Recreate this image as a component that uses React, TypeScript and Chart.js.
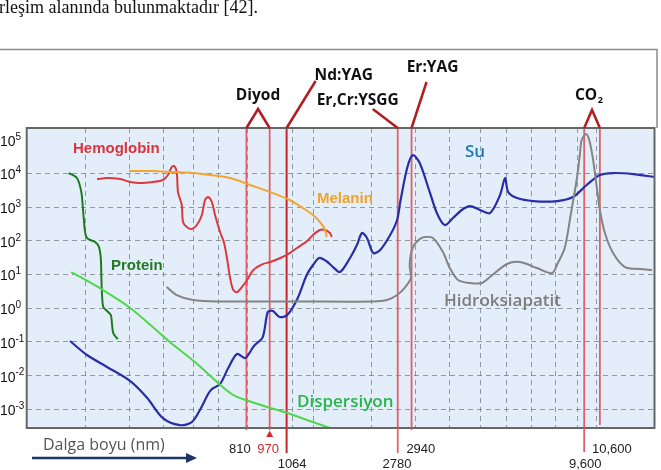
import React, { useEffect, useRef } from "react";
import { Chart, registerables } from "chart.js";

Chart.register(...registerables);

// x: relative position along the (schematic, non-uniform) wavelength axis, 0–100
// y: absorption coefficient (log scale)
const headerText = "rleşim alanında bulunmaktadır [42].";

const hemoglobinX = [11.2, 12.8, 14.9, 16.5, 18.0, 20.1, 21.7, 22.5, 23.1, 23.5, 23.9, 24.1, 24.7, 24.9, 25.5, 26.3, 27.1, 27.9, 28.4, 28.9, 29.5, 30.0, 30.8, 31.4, 31.9, 32.4, 32.9, 33.5, 34.3, 35.1, 36.1, 37.6, 38.8, 40.4, 41.9, 43.5, 44.7, 45.6, 46.7, 47.5, 48.3, 48.6];
const hemoglobinY = [6.8e3, 7.3e3, 6.8e3, 5.6e3, 5.2e3, 5.6e3, 6.4e3, 9.0e3, 1.55e4, 1.66e4, 1.1e4, 2.8e3, 1.16e3, 363, 258, 225, 295, 585, 1.63e3, 2.0e3, 1.42e3, 585, 183, 92, 31, 7.9, 3.5, 3.0, 4.3, 6.9, 13.7, 20.5, 23.5, 31, 43.5, 70, 99, 149, 210, 210, 171, 130];

const melaninX = [16.3, 20.1, 23.3, 26.5, 29.2, 32.4, 35.6, 38.8, 41.9, 44.0, 45.6, 46.7, 47.4, 47.8];
const melaninY = [1.18e4, 1.18e4, 1.1e4, 1.03e4, 9.0e3, 7.3e3, 4.55e3, 2.8e3, 1.63e3, 940, 585, 363, 240, 130];

const proteinX = [6.7, 8.0, 8.7, 9.0, 9.3, 9.6, 10.1, 10.9, 11.5, 11.8, 11.9, 12.0, 12.2, 12.8, 13.4, 13.6, 13.8, 14.5];
const proteinY = [1.03e4, 7.3e3, 2.8e3, 720, 183, 122, 106, 92, 66, 31, 7.9, 2.5, 1.09, 0.83, 0.63, 0.32, 0.18, 0.122];

const dispersionX = [7.1, 11.8, 16.5, 22.8, 26.8, 30.5, 32.9, 35.1, 38.8, 41.5, 45.1, 48.3];
const dispersionY = [11.9, 3.8, 1.02, 0.1, 0.0254, 6.05e-3, 2.67e-3, 1.83e-3, 1.1e-3, 7.8e-4, 4.5e-4, 2.8e-4];

const waterX = [6.9, 9.6, 12.8, 16.5, 19.2, 21.7, 24.4, 26.3, 27.6, 28.9, 29.5, 30.8, 32.1, 33.5, 34.8, 36.2, 37.6, 38.4, 39.2, 40.3, 41.5, 43.1, 44.6, 45.6, 46.6, 47.7, 48.8, 49.9, 51.5, 52.6, 53.4, 54.2, 55.2, 56.3, 57.9, 59.0, 59.5, 60.6, 61.5, 62.6, 64.2, 65.4, 66.6, 67.9, 69.3, 70.6, 72.2, 73.8, 75.4, 76.2, 76.7, 78.1, 80.7, 84.5, 87.0, 89.2, 91.3, 93.4, 96.6, 99.9];
const waterY = [0.107, 0.041, 0.0181, 6.9e-3, 2.17e-3, 5.5e-4, 3.4e-4, 4.2e-4, 9.6e-4, 2.85e-3, 4.0e-3, 5.65e-3, 0.0169, 0.0439, 0.0334, 0.0759, 0.14, 0.774, 0.83, 0.55, 0.63, 1.88, 9.7, 19.2, 31, 25.2, 16.7, 11.9, 31, 75, 171, 122, 43.6, 53.5, 149, 416, 1.42e3, 1.45e4, 3.5e4, 2.04e4, 2.8e3, 626, 295, 476, 823, 1.08e3, 823, 670, 2.3e3, 7.3e3, 2.8e3, 1.87e3, 1.52e3, 1.52e3, 2.0e3, 4.54e3, 9.0e3, 1.03e4, 9.6e3, 7.85e3];

const hydroxyapatiteX = [22.3, 23.9, 26.5, 30.3, 43.5, 55.2, 57.4, 59.0, 60.3, 61.2, 61.0, 61.2, 61.7, 62.6, 63.4, 64.7, 66.3, 67.4, 68.7, 70.6, 72.5, 73.8, 76.5, 78.6, 81.3, 83.7, 84.6, 85.7, 86.7, 87.6, 88.1, 88.4, 89.1, 89.6, 90.2, 90.8, 91.3, 92.1, 93.4, 95.3, 97.7, 99.6];
const hydroxyapatiteY = [4.27, 2.47, 1.76, 1.59, 1.59, 1.59, 1.76, 2.47, 4.27, 7.9, 17.9, 40.7, 75, 113, 130, 122, 46.7, 15.6, 6.9, 5.6, 5.6, 8.5, 20.6, 23.6, 15.6, 11.1, 22, 61, 671, 6.4e3, 3.5e4, 9.8e4, 1.48e5, 9.8e4, 2.69e4, 3.96e3, 824, 171, 43.6, 16.7, 14.6, 13.6];

const gridX = [9.4, 16.3, 21.8, 26.5, 30.6, 35.1, 42.4, 45.7, 55.0, 61.9, 67.4, 72.3, 76.5, 80.4, 84.2, 87.7, 90.7];
const yExponents = [5, 4, 3, 2, 1, 0, -1, -2, -3];
const yMin = 2.8e-4;
const yMax = 2.234e5;

const laserLabels = ["810", "970", "1064", "2780", "2940", "9,600", "10,600"];
const laserPos = [35.0, 38.7, 41.4, 59.1, 61.3, 88.8, 91.3];
const laserRow = [0, 0, 1, 1, 0, 1, 0];
const laserNames = ["Diyod", "Nd:YAG", "Er,Cr:YSGG", "Er:YAG", "CO"];
const laserGroups = [[0, 1], [2], [3], [4], [5, 6]];

const axisTitle = "Dalga boyu (nm)";

// styles
const labelDx = [-6.5, -1.5, 5.5, -0.7, 9.3, 1, 12];
const lineExt = [2, 2, 25, 25, 2, 24, -3];
const DARK_RED = "#b01c20";
const ANNOT_FONT = "bold 15.5px 'Open Sans', 'DejaVu Sans', sans-serif";

const mk = (label: string, xs: number[], ys: number[], color: string, width = 2) => ({
  label,
  data: xs.map((x, i) => ({ x, y: ys[i] })),
  borderColor: color,
  borderWidth: width,
  pointRadius: 0,
  tension: 0.3,
  fill: false,
});

const deco = {
  id: "deco",
  beforeDraw(chart: any) {
    const { ctx, chartArea: a } = chart;
    ctx.save();
    ctx.fillStyle = "#ffffff";
    ctx.fillRect(0, 0, chart.width, chart.height);
    ctx.fillStyle = "#111";
    ctx.font = "18px 'Liberation Serif', 'Times New Roman', serif";
    ctx.textBaseline = "alphabetic";
    ctx.textAlign = "left";
    ctx.fillText(headerText, -1, 13);
    ctx.strokeStyle = "#8c8c8c";
    ctx.lineWidth = 1.5;
    ctx.beginPath();
    ctx.moveTo(0, 49.5);
    ctx.lineTo(a.right + 2.5, 49.5);
    ctx.lineTo(a.right + 2.5, a.top);
    ctx.stroke();
    ctx.fillStyle = "#e4eefa";
    ctx.fillRect(a.left, a.top, a.right - a.left, a.bottom - a.top);
    ctx.restore();
  },
  beforeDatasetsDraw(chart: any) {
    const { ctx, chartArea: a, scales } = chart;
    ctx.save();
    laserPos.forEach((v, i) => {
      const px = scales.x.getPixelForValue(v);
      ctx.strokeStyle = i === 2 ? "#c8262b" : "#e06266";
      ctx.lineWidth = i === 2 ? 2 : 1.8;
      ctx.beginPath();
      ctx.moveTo(px, a.top);
      ctx.lineTo(px, Math.min(a.bottom, a.bottom + lineExt[i]));
      ctx.stroke();
    });
    ctx.restore();
  },
  afterDraw(chart: any) {
    const { ctx, chartArea: a, scales } = chart;
    const xs = scales.x;
    const ys = scales.y;
    ctx.save();
    // plot border
    ctx.strokeStyle = "#666";
    ctx.lineWidth = 2;
    ctx.strokeRect(a.left, a.top, a.right - a.left, a.bottom - a.top);

    // laser lines below plot and their labels
    laserPos.forEach((v, i) => {
      const px = xs.getPixelForValue(v);
      if (lineExt[i] > 0) {
        ctx.strokeStyle = i === 2 ? "#c8262b" : "#e06266";
        ctx.lineWidth = i === 2 ? 2 : 1.8;
        ctx.beginPath();
        ctx.moveTo(px, a.bottom);
        ctx.lineTo(px, a.bottom + lineExt[i]);
        ctx.stroke();
      }
      ctx.font = "13px 'Liberation Sans', Arial, sans-serif";
      ctx.textAlign = "center";
      ctx.textBaseline = "alphabetic";
      ctx.fillStyle = i === 1 ? "#d42a2a" : "#222";
      ctx.fillText(laserLabels[i], px + labelDx[i], a.bottom + (laserRow[i] === 0 ? 25 : 40));
      if (i === 1) {
        ctx.beginPath();
        ctx.moveTo(px, a.bottom + 2.5);
        ctx.lineTo(px + 3.5, a.bottom + 9);
        ctx.lineTo(px - 3.5, a.bottom + 9);
        ctx.closePath();
        ctx.fill();
      }
    });

    // laser annotations above plot
    ctx.strokeStyle = DARK_RED;
    ctx.lineWidth = 2.5;
    ctx.lineJoin = "miter";
    ctx.fillStyle = "#111";
    ctx.font = ANNOT_FONT;
    ctx.textBaseline = "alphabetic";
    const lp = (i: number) => xs.getPixelForValue(laserPos[i]);
    {
      const x1 = lp(laserGroups[0][0]);
      const x2 = lp(laserGroups[0][1]);
      const ax = (x1 + x2) / 2;
      ctx.beginPath();
      ctx.moveTo(x1, a.top);
      ctx.lineTo(ax, a.top - 19);
      ctx.lineTo(x2, a.top);
      ctx.stroke();
      ctx.textAlign = "center";
      ctx.fillText(laserNames[0], ax, a.top - 28);
    }
    {
      const x = lp(laserGroups[1][0]);
      ctx.beginPath();
      ctx.moveTo(x, a.top);
      ctx.lineTo(x + 29, a.top - 47);
      ctx.stroke();
      ctx.textAlign = "left";
      ctx.fillText(laserNames[1], x + 28, a.top - 48);
    }
    {
      const x = lp(laserGroups[2][0]);
      ctx.beginPath();
      ctx.moveTo(x, a.top);
      ctx.lineTo(x - 25, a.top - 19);
      ctx.stroke();
      ctx.textAlign = "center";
      ctx.fillText(laserNames[2], x - 40, a.top - 23);
    }
    {
      const x = lp(laserGroups[3][0]);
      ctx.beginPath();
      ctx.moveTo(x, a.top);
      ctx.lineTo(x + 15, a.top - 46);
      ctx.stroke();
      ctx.textAlign = "center";
      ctx.fillText(laserNames[3], x + 21, a.top - 56);
    }
    {
      const x1 = lp(laserGroups[4][0]);
      const x2 = lp(laserGroups[4][1]);
      const ax = (x1 + x2) / 2;
      ctx.beginPath();
      ctx.moveTo(x1, a.top);
      ctx.lineTo(ax, a.top - 18);
      ctx.lineTo(x2, a.top);
      ctx.stroke();
      ctx.textAlign = "left";
      const w = ctx.measureText(laserNames[4]).width;
      const sx = ax - 3 - (w + 6) / 2;
      ctx.fillText(laserNames[4], sx, a.top - 28);
      ctx.font = "bold 9px 'Open Sans', 'DejaVu Sans', sans-serif";
      ctx.fillText("2", sx + w + 0.5, a.top - 25);
    }

    // y tick labels 10^n
    yExponents.forEach((e) => {
      const py = ys.getPixelForValue(Math.pow(10, e));
      ctx.fillStyle = "#111";
      ctx.textAlign = "left";
      ctx.textBaseline = "middle";
      ctx.font = "14px 'Liberation Sans', Arial, sans-serif";
      ctx.fillText("10", 0, py + 2);
      ctx.font = "10px 'Liberation Sans', Arial, sans-serif";
      ctx.fillText(String(e), 15.5, py - 3);
    });

    // series labels
    const txt = (s: string, x: number, y: number, font: string, color: string) => {
      ctx.font = font;
      ctx.fillStyle = color;
      ctx.textAlign = "left";
      ctx.textBaseline = "alphabetic";
      ctx.fillText(s, x, y);
    };
    const arialB = "bold 15px 'Liberation Sans', Arial, sans-serif";
    txt("Hemoglobin", 73, 153, arialB, "#d8343b");
    txt("Protein", 111, 270, arialB, "#237a23");
    txt("Melanin", 317, 203, arialB, "#f0a22e");
    txt("Su", 465, 157, "600 17px 'Open Sans', sans-serif", "#1a78bc");
    txt("Hidroksiapatit", 444, 306, "600 17px 'Open Sans', sans-serif", "#7c7c7c");
    txt("Dispersiyon", 297, 407, "600 17px 'Open Sans', sans-serif", "#2ab34a");

    // axis title & arrow
    txt(axisTitle, 43, 450, "16px 'Open Sans', sans-serif", "#555");
    ctx.strokeStyle = "#1c3466";
    ctx.fillStyle = "#1c3466";
    ctx.lineWidth = 2.5;
    ctx.beginPath();
    ctx.moveTo(32, 458);
    ctx.lineTo(188, 458);
    ctx.stroke();
    ctx.beginPath();
    ctx.moveTo(197, 458);
    ctx.lineTo(186, 453);
    ctx.lineTo(186, 463);
    ctx.closePath();
    ctx.fill();
    ctx.restore();
  },
};

const GRID = "rgba(118,124,134,0.75)";

export default function App() {
  const ref = useRef<HTMLCanvasElement>(null);
  useEffect(() => {
    if (!ref.current) return;
    const chart = new Chart(ref.current, {
      type: "line",
      data: {
        datasets: [
          mk("Hydroxyapatite", hydroxyapatiteX, hydroxyapatiteY, "#848484"),
          mk("Dispersion", dispersionX, dispersionY, "#4fd64a"),
          mk("Protein", proteinX, proteinY, "#1e7a1e"),
          mk("Melanin", melaninX, melaninY, "#f2a530"),
          mk("Hemoglobin", hemoglobinX, hemoglobinY, "#d93a3e"),
          mk("Water", waterX, waterY, "#2a2ea6", 2.2),
        ] as any,
      },
      options: {
        responsive: false,
        animation: false,
        devicePixelRatio: 1,
        layout: { padding: { left: 26.7, top: 128, right: 6.5, bottom: 42 } },
        plugins: { legend: { display: false }, tooltip: { enabled: false } },
        scales: {
          x: {
            type: "linear",
            min: 0,
            max: 100,
            afterBuildTicks: (s: any) => {
              s.ticks = gridX.map((v) => ({ value: v }));
            },
            afterFit: (s: any) => {
              s.height = 0;
            },
            ticks: { display: false },
            grid: { color: GRID, lineWidth: 1, drawTicks: false },
            border: { display: false, dash: [5, 4] },
          },
          y: {
            type: "logarithmic",
            min: yMin,
            max: yMax,
            afterBuildTicks: (s: any) => {
              s.ticks = yExponents.map((e) => ({ value: Math.pow(10, e) }));
            },
            afterFit: (s: any) => {
              s.width = 0;
            },
            ticks: { display: false },
            grid: {
              color: (c: any) => (c.tick && c.tick.value > 5e4 ? "rgba(0,0,0,0)" : GRID),
              lineWidth: 1,
              drawTicks: false,
            },
            border: { display: false, dash: [5, 4] },
          },
        },
      } as any,
      plugins: [deco],
    });
    return () => chart.destroy();
  }, []);
  return (
    <div style={{ position: "fixed", left: 0, top: 0, width: 661, height: 470, background: "#fff" }}>
      <canvas ref={ref} width={661} height={470} style={{ display: "block", width: 661, height: 470 }} />
    </div>
  );
}
